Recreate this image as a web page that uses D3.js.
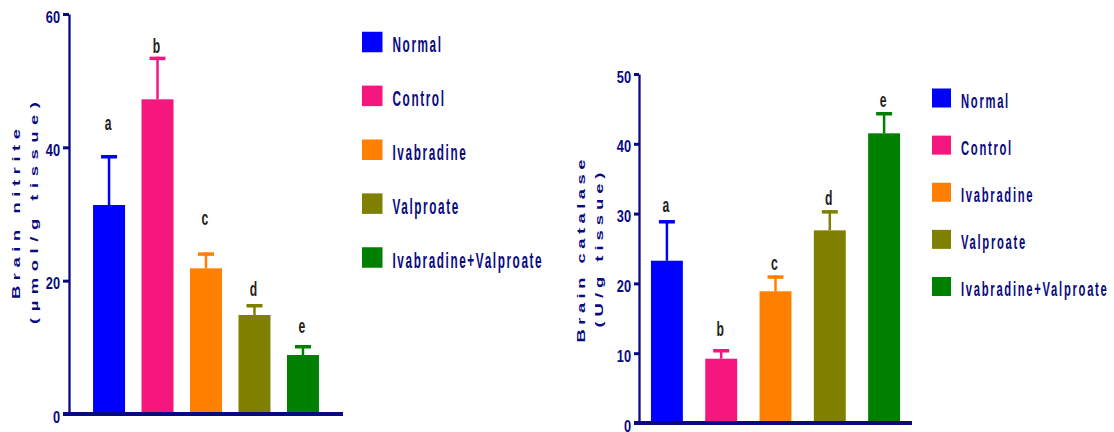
<!DOCTYPE html>
<html>
<head>
<meta charset="utf-8">
<script src="https://cdn.jsdelivr.net/npm/d3@7"></script>
<style>
  html, body { margin: 0; padding: 0; background: #fff; }
  svg { display: block; }
</style>
</head>
<body>
<svg id="chart" width="1114" height="432"></svg>
<script>
// ---------------- data ----------------
const categories = ["Normal", "Control", "Ivabradine", "Valproate", "Ivabradine+Valproate"];
const barColors = ["#0000ff", "#f5167e", "#ff8000", "#808000", "#008000"];
const letters = ["a", "b", "c", "d", "e"];

// Panel 1: Brain nitrite (µmol/g tissue)
const nitriteMean = [31.35, 47.2, 21.85, 14.85, 8.85];
const nitriteSEM = [7.5, 6.4, 2.4, 1.65, 1.5];
const nitriteLetterY = [42.6, 54.15, 28.35, 17.7, 12.15];
const nitriteTicks = [0, 20, 40, 60];

// Panel 2: Brain catalase (U/g tissue)
const catalaseMean = [23.25, 9.21, 18.87, 27.6, 41.5];
const catalaseSEM = [5.83, 1.39, 2.29, 2.9, 3.06];
const catalaseLetterY = [30.2, 12.5, 21.9, 31.2, 45.3];
const catalaseTicks = [0, 10, 20, 30, 40, 50];

// ---------------- drawing ----------------
const NAVY = "#0a0a80";
const FONT = "'Liberation Sans', Arial, sans-serif";
const svg = d3.select("#chart");

function drawPanel(cfg) {
  const g = svg.append("g");
  const y = d3.scaleLinear().domain([0, cfg.maxY]).range([cfg.yBottom, cfg.yTop]);
  const x = d3.scaleBand().domain(categories)
    .range([cfg.axisX, cfg.axisEnd])
    .paddingInner(cfg.pi).paddingOuter(cfg.po);

  const rows = categories.map((c, i) => ({
    cat: c, mean: cfg.means[i], sem: cfg.sems[i], color: barColors[i],
    letter: letters[i], ly: cfg.letterY[i]
  }));

  // bars
  g.selectAll("rect.bar").data(rows).join("rect")
    .attr("class", "bar")
    .attr("x", d => x(d.cat))
    .attr("width", x.bandwidth())
    .attr("y", d => y(d.mean))
    .attr("height", d => y(0) - y(d.mean))
    .attr("fill", d => d.color);

  // error bars (upper only)
  const capW = 16;
  g.selectAll("line.err").data(rows).join("line")
    .attr("x1", d => x(d.cat) + x.bandwidth() / 2)
    .attr("x2", d => x(d.cat) + x.bandwidth() / 2)
    .attr("y1", d => y(d.mean))
    .attr("y2", d => y(d.mean + d.sem))
    .attr("stroke", d => d.color)
    .attr("stroke-width", 2.5);
  g.selectAll("rect.cap").data(rows).join("rect")
    .attr("x", d => x(d.cat) + x.bandwidth() / 2 - capW / 2)
    .attr("width", capW)
    .attr("y", d => y(d.mean + d.sem))
    .attr("height", 3.5)
    .attr("fill", d => d.color);

  // significance letters
  g.selectAll("g.letter").data(rows).join("g")
    .attr("transform", d => `translate(${x(d.cat) + x.bandwidth() / 2 - 1},${y(d.ly)})`)
    .append("text")
    .attr("transform", "scale(0.64,1.1)")
    .attr("text-anchor", "middle")
    .attr("font-family", FONT)
    .attr("font-weight", "bold")
    .attr("font-size", 19)
    .attr("fill", "#222")
    .text(d => d.letter);

  // y axis
  const yAxis = d3.axisLeft(y).tickValues(cfg.ticks).tickSize(cfg.tickLen).tickSizeOuter(0).tickPadding(3);
  const ax = g.append("g").attr("transform", `translate(${cfg.axisX},0)`).call(yAxis);
  ax.select(".domain").attr("stroke", NAVY).attr("stroke-width", 2.3);
  ax.selectAll(".tick line").attr("stroke", NAVY).attr("stroke-width", 3);
  ax.selectAll(".tick text")
    .attr("fill", NAVY)
    .attr("font-family", FONT)
    .attr("font-weight", "bold")
    .attr("font-size", 16)
    .attr("x", null)
    .attr("transform", `translate(${-(cfg.tickLen + 3)},3) scale(0.8,1)`);

  // x axis line
  g.append("line")
    .attr("x1", cfg.axisX - cfg.tickLen).attr("x2", cfg.axisEnd)
    .attr("y1", y(0)).attr("y2", y(0))
    .attr("stroke", NAVY).attr("stroke-width", 4);

  // y titles (extended glyphs, wide tracking)
  const stretch = 1.6;
  [[cfg.title1, cfg.t1x, cfg.c1, cfg.len1], [cfg.title2, cfg.t2x, cfg.c2, cfg.len2]].forEach(([t, tx, cy, len]) => {
    g.append("text")
      .attr("transform", `translate(${tx},${cy}) rotate(-90) scale(${stretch},1)`)
      .attr("text-anchor", "middle")
      .attr("font-family", FONT)
      .attr("font-weight", "bold")
      .attr("font-size", 11.5)
      .attr("fill", NAVY)
      .attr("textLength", len / stretch)
      .attr("lengthAdjust", "spacing")
      .text(t);
  });

  // legend
  const ly = d3.scalePoint().domain(categories).range(cfg.legendRange);
  const lg = g.append("g");
  lg.selectAll("rect").data(rows).join("rect")
    .attr("x", cfg.legendX)
    .attr("y", d => ly(d.cat) - cfg.sq / 2)
    .attr("width", cfg.sq).attr("height", cfg.sq)
    .attr("fill", d => d.color);
  lg.selectAll("g.lt").data(rows).join("g")
    .attr("transform", d => `translate(${cfg.legendX + cfg.sq + 10},${ly(d.cat) + cfg.sq / 2})`)
    .append("text")
    .attr("transform", "scale(0.535,1)")
    .attr("font-family", FONT)
    .attr("font-weight", "bold")
    .attr("font-size", cfg.legendFont)
    .attr("letter-spacing", cfg.legendLS)
    .attr("fill", NAVY)
    .text(d => d.cat);
}

drawPanel({
  axisX: 69, axisEnd: 343, yTop: 14, yBottom: 414, maxY: 60,
  ticks: nitriteTicks, tickLen: 6,
  means: nitriteMean, sems: nitriteSEM, letterY: nitriteLetterY,
  pi: 0.34, po: 0.496,
  title1: "Brain nitrite", title2: "(µmol/g tissue)",
  t1x: 19.5, t2x: 37.5, c1: 214, c2: 213, len1: 170, len2: 222,
  legendX: 362, legendRange: [42, 257.5], sq: 20.5, legendFont: 22, legendLS: 3
});

drawPanel({
  axisX: 639, axisEnd: 912, yTop: 74, yBottom: 423, maxY: 50,
  ticks: catalaseTicks, tickLen: 5,
  means: catalaseMean, sems: catalaseSEM, letterY: catalaseLetterY,
  pi: 0.412, po: 0.22,
  title1: "Brain catalase", title2: "(U/g tissue)",
  t1x: 585, t2x: 603, c1: 251, c2: 250, len1: 183, len2: 155,
  legendX: 932, legendRange: [98, 286.5], sq: 19, legendFont: 21, legendLS: 3.2
});
</script>
</body>
</html>
